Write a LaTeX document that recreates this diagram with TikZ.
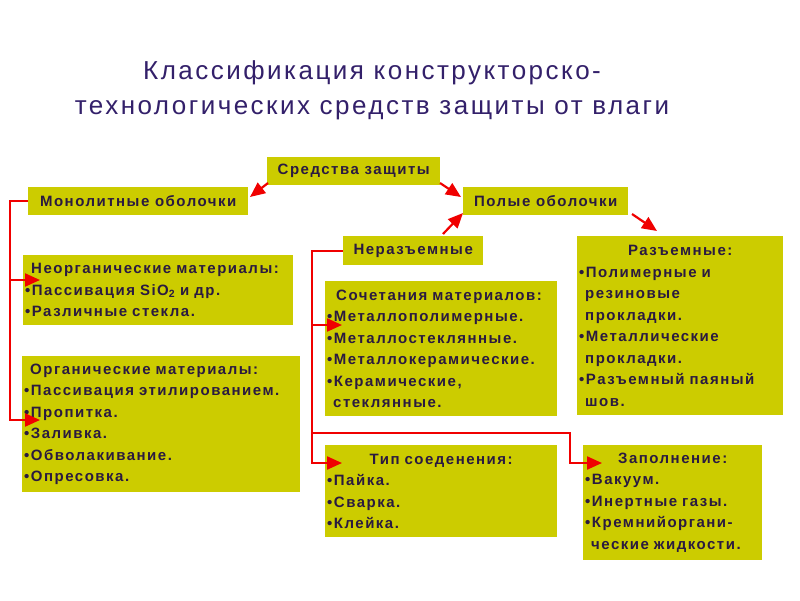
\documentclass[tikz,border=0pt]{standalone}
\usepackage{fontspec}
\setmainfont{Liberation Sans}
\newfontfamily\boxfont[LetterSpace=10]{Liberation Sans}
\newfontfamily\titlefont[LetterSpace=9.5]{Liberation Sans}
\usetikzlibrary{arrows.meta}
\definecolor{boxfill}{HTML}{CCCC00}
\definecolor{boxtext}{HTML}{2A1A40}
\definecolor{titletext}{HTML}{33206A}
\definecolor{linkred}{HTML}{F00000}
\newcommand\blt{\textbullet}
\newcommand\cnt{\hspace*{6pt}}
\begin{document}
\begin{tikzpicture}[x=1pt,y=-1pt,
  box/.style={fill=boxfill, anchor=north west, inner xsep=2pt, inner ysep=0pt,
    font=\boxfont\bfseries\fontsize{15}{21.5}\selectfont, text=boxtext},
  link/.style={draw=linkred, line width=2.2pt, -{Triangle[length=15pt,width=13pt]}}]
\useasboundingbox (0,0) rectangle (800,600);
\fill[white] (0,0) rectangle (800,600);

% title
\node[font=\titlefont\fontsize{26}{35}\selectfont, text=titletext, align=center] (title) at (372,90)
  {Классификация конструкторско-\\технологических средств защиты от влаги};

% boxes
\node[box, minimum width=173, minimum height=28] (sred) at (267,157) {Средства защиты};
\node[box, minimum width=220, minimum height=28] (mono) at (28,187) {Монолитные оболочки};
\node[box, minimum width=165, minimum height=28] (polye) at (463,187) {Полые оболочки};
\node[box, minimum width=140, minimum height=29] (neraz) at (343,236) {Неразъемные};

\node[box, minimum width=206, minimum height=179, text width=202, align=left] (razem) at (577,236)
  {\makebox[\linewidth]{Разъемные:}\\
   \blt Полимерные и\\ \cnt резиновые\\ \cnt прокладки.\\
   \blt Металлические\\ \cnt прокладки.\\
   \blt Разъемный паяный\\ \cnt шов.};

\node[box, minimum width=270, minimum height=70, text width=266, align=left] (neorg) at (23,255)
  {\hspace*{6pt}Неорганические материалы:\\
   \blt Пассивация SiO\textsubscript{2} и др.\\
   \blt Различные стекла.};

\node[box, minimum width=278, minimum height=136, text width=274, align=left] (org) at (22,356)
  {\hspace*{6pt}Органические материалы:\\
   \blt Пассивация этилированием.\\
   \blt Пропитка.\\
   \blt Заливка.\\
   \blt Обволакивание.\\
   \blt Опресовка.};

\node[box, minimum width=232, minimum height=135, text width=228, align=left] (soch) at (325,281)
  {\hspace*{9pt}Сочетания материалов:\\
   \blt Металлополимерные.\\
   \blt Металлостеклянные.\\
   \blt Металлокерамические.\\
   \blt Керамические,\\
   \cnt стеклянные.};

\node[box, minimum width=232, minimum height=92, text width=228, align=left] (tip) at (325,445)
  {\makebox[\linewidth]{Тип соеденения:}\\
   \blt Пайка.\\
   \blt Сварка.\\
   \blt Клейка.};

\node[box, minimum width=179, minimum height=115, text width=175, align=left] (zap) at (583,445)
  {\makebox[\linewidth]{Заполнение:}\\
   \blt Вакуум.\\
   \blt Инертные газы.\\
   \blt Кремнийоргани-\\
   \cnt ческие жидкости.};

% connector points
\coordinate (sredL) at (268,183);
\coordinate (monoIn) at (250,197);
\coordinate (sredR) at (440,183);
\coordinate (polyeIn) at (461,197);
\coordinate (nerazOut) at (443,234);
\coordinate (polyeUp) at (463,213);
\coordinate (polyeOut) at (632,214);
\coordinate (razemIn) at (657,231);

\coordinate (lSpineTop) at (10,280);
\coordinate (neorgIn) at (40,280);
\coordinate (orgIn) at (40,420);
\coordinate (rSpineA) at (312,325);
\coordinate (rSpineB) at (312,433);
\coordinate (sochIn) at (342,325);
\coordinate (tipIn) at (342,463);
\coordinate (zapIn) at (602,463);
\coordinate (zapTurn) at (570,463);

% diagonal arrows
\draw[link] (sredL) -- (monoIn);
\draw[link] (sredR) -- (polyeIn);
\draw[link] (nerazOut) -- (polyeUp);
\draw[link] (polyeOut) -- (razemIn);

% left tree
\draw[link] (mono.west) -| (orgIn -| lSpineTop) -- (orgIn);
\draw[link] (lSpineTop) -- (neorgIn);

% right tree
\draw[link] (neraz.west) -| (tipIn -| rSpineA) -- (tipIn);
\draw[link] (rSpineA) -- (sochIn);
\draw[link] (rSpineB) -| (zapTurn) -- (zapIn);
\end{tikzpicture}
\end{document}
